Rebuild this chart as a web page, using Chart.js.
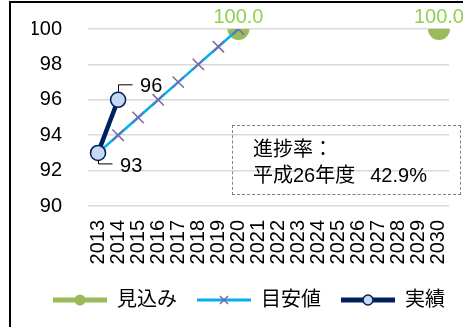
<!DOCTYPE html>
<html lang="ja">
<head>
<meta charset="utf-8">
<script src="https://cdn.jsdelivr.net/npm/chart.js@4.4.0/dist/chart.umd.min.js"></script>
<style>
  html, body { margin: 0; padding: 0; background: #fff; }
  #wrap { position: relative; width: 466px; height: 327px; overflow: hidden; }
  #frame { position: absolute; left: 9px; top: 1px; width: 452px; height: 340px;
           border-top: 2px solid #000; border-left: 2px solid #000; pointer-events: none; }
  #note { position: absolute; left: 232px; top: 125px; width: 229px; height: 70px;
          border: 1px dashed #808080; box-sizing: border-box;
          font: 20px "Liberation Sans", "Noto Sans CJK JP", sans-serif; color: #000;
          line-height: 26px; padding: 10px 0 0 20px; }
</style>
</head>
<body>
<div id="wrap">
  <canvas id="chart" width="466" height="327"></canvas>
  <div id="frame"></div>
  <div id="note">進捗率：<br>平成26年度<span style="margin-left:15px">42.9%</span></div>
</div>
<script>
// 年度
const years = ['2013', '2014', '2015', '2016', '2017', '2018', '2019', '2020', '2021',
               '2022', '2023', '2024', '2025', '2026', '2027', '2028', '2029', '2030'];
// 見込み
const mikomi = [null, null, null, null, null, null, null, 100, null,
                null, null, null, null, null, null, null, null, 100];
// 目安値
const meyasu = [93, 94, 95, 96, 97, 98, 99, 100, null,
                null, null, null, null, null, null, null, null, null];
// 実績
const jisseki = [93, 96, null, null, null, null, null, null, null,
                 null, null, null, null, null, null, null, null, null];

const FONT = '"Liberation Sans", "Noto Sans CJK JP", sans-serif';
const GREEN = '#9BBB59';
const GREEN_TXT = '#92D050';
const CYAN = '#00B0F0';
const PURPLE = '#8064A2';
const NAVY = '#002060';
const PALE = '#C6D9F1';

// 凡例アイコン（線＋マーカー）
function legendIcon(color, width, marker) {
  const c = document.createElement('canvas');
  c.width = 54; c.height = 20;
  const g = c.getContext('2d');
  g.strokeStyle = color; g.lineWidth = width;
  g.beginPath(); g.moveTo(0, 10); g.lineTo(54, 10); g.stroke();
  marker(g, 27, 10);
  return c;
}
const icons = [
  legendIcon(GREEN, 5, (g, x, y) => {
    g.fillStyle = GREEN; g.beginPath(); g.arc(x, y, 5.5, 0, Math.PI * 2); g.fill();
  }),
  legendIcon(CYAN, 3, (g, x, y) => {
    g.strokeStyle = PURPLE; g.lineWidth = 1.5; g.beginPath();
    g.moveTo(x - 4, y - 4); g.lineTo(x + 4, y + 4);
    g.moveTo(x - 4, y + 4); g.lineTo(x + 4, y - 4); g.stroke();
  }),
  legendIcon(NAVY, 5, (g, x, y) => {
    g.fillStyle = PALE; g.strokeStyle = NAVY; g.lineWidth = 1.5;
    g.beginPath(); g.arc(x, y, 5, 0, Math.PI * 2); g.fill(); g.stroke();
  })
];

// データラベル
const valueLabels = {
  id: 'valueLabels',
  beforeDatasetsDraw(chart) {
    const ctx = chart.ctx;
    ctx.save();
    ctx.font = '20px ' + FONT;
    ctx.fillStyle = GREEN_TXT;
    ctx.textAlign = 'center';
    ctx.textBaseline = 'middle';
    chart.getDatasetMeta(0).data.forEach((pt, i) => {
      if (mikomi[i] == null) return;
      ctx.fillText(mikomi[i].toFixed(1), pt.x, pt.y - 12);
    });
    ctx.restore();
  },
  afterDatasetsDraw(chart) {
    const ctx = chart.ctx;
    ctx.save();
    ctx.font = '20px ' + FONT;
    ctx.fillStyle = '#000';
    ctx.strokeStyle = '#000';
    ctx.lineWidth = 1;
    ctx.textAlign = 'left';
    ctx.textBaseline = 'middle';
    chart.getDatasetMeta(2).data.forEach((pt, i) => {
      if (jisseki[i] == null) return;
      const up = i > 0;
      const x = Math.round(pt.x) + 0.5;
      const y0 = up ? pt.y - 8 : pt.y + 8;
      const y1 = up ? pt.y - 15 : pt.y + 11;
      ctx.beginPath();
      ctx.moveTo(x, y0); ctx.lineTo(x, y1); ctx.lineTo(x + 14, y1);
      ctx.stroke();
      ctx.fillText(String(jisseki[i]), pt.x + 22, up ? pt.y - 13 : pt.y + 14);
    });
    ctx.restore();
  }
};

new Chart(document.getElementById('chart'), {
  type: 'line',
  data: {
    labels: years,
    datasets: [{
      label: '見込み',
      data: mikomi,
      order: 3,
      borderColor: GREEN,
      backgroundColor: GREEN,
      borderWidth: 3,
      pointRadius: 11,
      pointBackgroundColor: GREEN,
      pointBorderColor: GREEN,
      pointBorderWidth: 0,
      spanGaps: false
    }, {
      label: '目安値',
      data: meyasu,
      order: 2,
      borderColor: CYAN,
      backgroundColor: CYAN,
      borderWidth: 2.5,
      pointStyle: 'crossRot',
      pointRadius: 8,
      pointBorderColor: PURPLE,
      pointBorderWidth: 1.5
    }, {
      label: '実績',
      data: jisseki,
      order: 1,
      borderColor: NAVY,
      backgroundColor: PALE,
      borderWidth: 4.5,
      pointRadius: 7.5,
      pointBackgroundColor: PALE,
      pointBorderColor: NAVY,
      pointBorderWidth: 1.5
    }]
  },
  options: {
    responsive: false,
    animation: false,
    events: [],
    layout: { padding: { left: 32, right: 0, top: 29, bottom: 7 } },
    scales: {
      x: {
        offset: true,
        grid: { display: true, drawOnChartArea: false, drawTicks: true, tickLength: 14,
                color: 'rgba(0,0,0,0)', tickColor: 'rgba(0,0,0,0)' },
        border: { display: false },
        ticks: { minRotation: 90, maxRotation: 90, autoSkip: false, padding: 0,
                 color: '#000', font: { size: 20, family: FONT } },
        afterFit(s) { s.height = 64; }
      },
      y: {
        min: 90,
        max: 100,
        ticks: { stepSize: 2, padding: 4, color: '#000', font: { size: 20, family: FONT } },
        grid: { color: '#D9D9D9', lineWidth: 1.5, drawTicks: true, tickLength: 22,
                tickColor: 'rgba(0,0,0,0)' },
        border: { display: false },
        afterFit(s) { s.width = 56; }
      },
      // 右余白用
      yRight: {
        position: 'right',
        grid: { display: false, drawTicks: false },
        border: { display: false },
        ticks: { display: false },
        afterFit(s) { s.width = 17; }
      }
    },
    plugins: {
      tooltip: { enabled: false },
      legend: {
        position: 'bottom',
        labels: {
          usePointStyle: true,
          pointStyleWidth: 54,
          padding: 20,
          color: '#000',
          font: { size: 20, family: FONT },
          sort: (a, b) => a.datasetIndex - b.datasetIndex,
          generateLabels(chart) {
            const items = Chart.defaults.plugins.legend.labels.generateLabels(chart);
            items.forEach(it => { it.pointStyle = icons[it.datasetIndex]; it.rotation = 0; });
            return items;
          }
        }
      }
    }
  },
  plugins: [valueLabels]
});
</script>
</body>
</html>
